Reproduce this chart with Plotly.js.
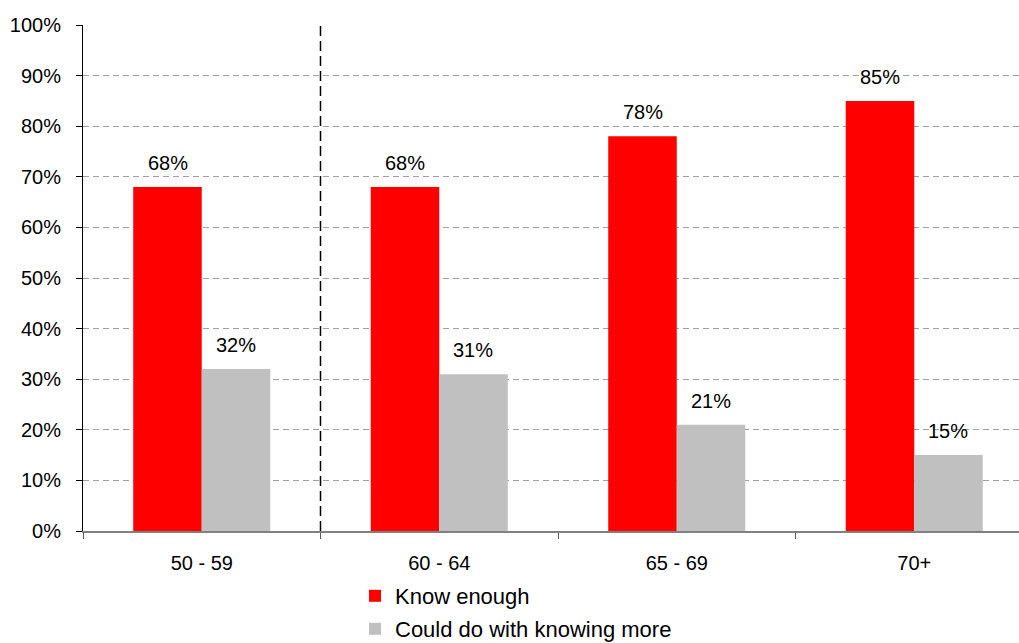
<!DOCTYPE html>
<html>
<head>
<meta charset="utf-8">
<script src="https://cdn.plot.ly/plotly-3.0.1.min.js"></script>
<style>html,body{margin:0;padding:0;background:#fff;}#chart{width:1019px;height:643px;}</style>
</head>
<body>
<div id="chart"></div>
<script>
const categories = ["50 - 59", "60 - 64", "65 - 69", "70+"];
const knowEnough = [68, 68, 78, 85];
const couldKnowMore = [32, 31, 21, 15];
const seriesNames = ["Know enough", "Could do with knowing more"];
const yTickVals = [0, 10, 20, 30, 40, 50, 60, 70, 80, 90, 100];
const yTickText = ["0%", "10%", "20%", "30%", "40%", "50%", "60%", "70%", "80%", "90%", "100%"];

const FONT = "Liberation Sans, Arial, sans-serif";

const traces = [
  {type: "bar", name: seriesNames[0], x: categories, y: knowEnough,
   marker: {color: "#ff0000"}, legend: "legend", hoverinfo: "none"},
  {type: "bar", name: seriesNames[1], x: categories, y: couldKnowMore,
   marker: {color: "#c0c0c0"}, legend: "legend2", hoverinfo: "none"}
];

const annotations = [];
categories.forEach((c, i) => {
  annotations.push({x: c, y: knowEnough[i], xref: "x", yref: "y", text: knowEnough[i] + "%",
    showarrow: false, xshift: -34, yshift: 24, yanchor: "middle", font: {family: FONT, size: 20, color: "#000"}});
  annotations.push({x: c, y: couldKnowMore[i], xref: "x", yref: "y", text: couldKnowMore[i] + "%",
    showarrow: false, xshift: 34, yshift: 24, yanchor: "middle", font: {family: FONT, size: 20, color: "#000"}});
});

const layout = {
  width: 1019, height: 643,
  margin: {l: 83, r: 0, t: 25, b: 112, pad: 0},
  paper_bgcolor: "#fff", plot_bgcolor: "#fff",
  font: {family: FONT, size: 20, color: "#000"},
  barmode: "group", bargap: 0.423, bargroupgap: 0,
  xaxis: {
    type: "category", range: [-0.5, 3.441], fixedrange: true,
    showline: true, linecolor: "#808080", linewidth: 2,
    ticks: "outside", tickson: "boundaries", ticklen: 6, tickcolor: "#555", tickwidth: 1,
    showgrid: false, zeroline: false,
    tickfont: {family: FONT, size: 20, color: "#000"}, ticklabelstandoff: 13
  },
  yaxis: {
    range: [0, 100], tickvals: yTickVals, ticktext: yTickText, fixedrange: true,
    showline: true, linecolor: "#000", linewidth: 1,
    ticks: "outside", ticklen: 6, tickcolor: "#000",
    showgrid: true, gridcolor: "#a0a0a0", griddash: "6px,4px", gridwidth: 1,
    zeroline: false,
    tickfont: {family: FONT, size: 20, color: "#000"}, ticklabelstandoff: 11
  },
  shapes: [{type: "line", xref: "x", yref: "paper", x0: 0.5, x1: 0.5, y0: 0, y1: 1,
    line: {color: "#000", width: 1.5, dash: "10px,5px"}}],
  annotations: annotations,
  showlegend: true,
  legend: {x: 0.2906, y: 1 - 596 / 643, xref: "paper", yref: "container", xanchor: "left", yanchor: "middle",
    font: {family: FONT, size: 22, color: "#000"}, bgcolor: "rgba(0,0,0,0)", itemwidth: 30},
  legend2: {x: 0.2906, y: 1 - 629 / 643, xref: "paper", yref: "container", xanchor: "left", yanchor: "middle",
    font: {family: FONT, size: 22, color: "#000"}, bgcolor: "rgba(0,0,0,0)", itemwidth: 30}
};

Plotly.newPlot("chart", traces, layout, {displayModeBar: false, staticPlot: true});
</script>
</body>
</html>
